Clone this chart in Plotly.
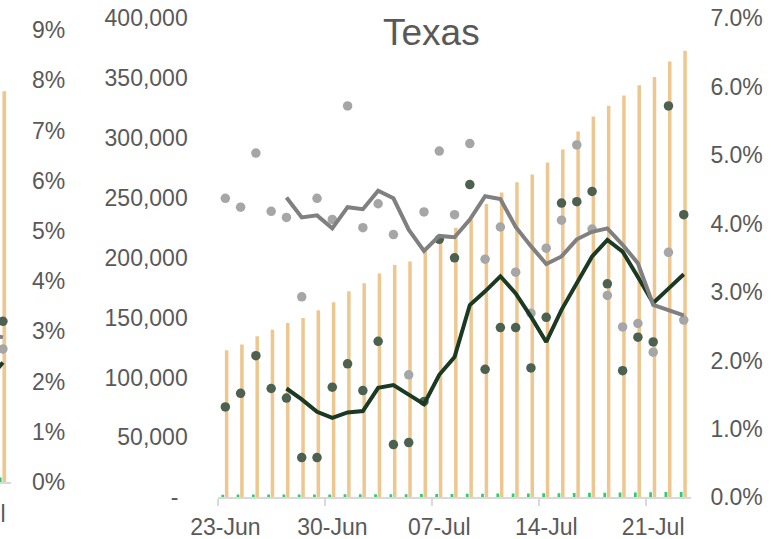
import plotly.graph_objects as go
import pandas as pd

W, H = 771, 539
TXT = "#595959"
AXIS = "#D9D9D9"
DAY_MS = 86400000

# ---- Texas data ----
dates = pd.date_range("2020-06-23", "2020-07-23", freq="D")

cases = [122700, 127700, 134400, 140000, 145500, 149700, 156100, 162800, 172000, 178700,
         186800, 194000, 197000, 207500, 215500, 225000, 232000, 245000, 254500, 263000,
         269500, 279500, 290500, 305500, 318000, 327000, 335500, 344000, 351000, 364000,
         373000]

deaths = [2220, 2249, 2296, 2325, 2366, 2373, 2381, 2424, 2481, 2525,
          2575, 2608, 2637, 2655, 2715, 2813, 2918, 3013, 3112, 3192,
          3235, 3322, 3432, 3561, 3735, 3865, 3958, 4021, 4151, 4348,
          4521]

# daily rates (%), right axis
green_daily = [1.32, 1.52, 2.07, 1.59, 1.45, 0.58, 0.58, 1.61, 1.95, 1.56,
               2.28, 0.77, 0.80, 1.40, 3.77, 3.50, 4.57, 1.87, 2.48, 2.48,
               1.89, 2.63, 4.30, 4.32, 4.47, 3.12, 1.85, 2.34, 2.27, 5.72,
               4.13]
green_avg = [None, None, None, None,
             1.59, 1.43, 1.25, 1.16, 1.24, 1.26, 1.60, 1.64, 1.50, 1.36,
             1.79, 2.05, 2.81, 3.01, 3.23, 2.98, 2.64, 2.27, 2.74, 3.13,
             3.52, 3.76, 3.59, 3.22, 2.84, 3.05, 3.26]

grey_daily = [4.37, 4.24, 5.03, 4.18, 4.09, 2.93, 4.37, 4.06, 5.72, 3.94,
              4.29, 3.84, 1.79, 4.17, 5.06, 4.13, 5.17, 3.48, 3.95, 3.29,
              2.69, 3.64, 4.05, 5.15, 3.92, 2.95, 2.49, 2.54, 2.12, 3.58,
              2.59]
grey_avg = [None, None, None, None,
            4.38, 4.09, 4.12, 3.93, 4.24, 4.21, 4.48, 4.37, 3.91, 3.60,
            3.82, 3.80, 4.06, 4.40, 4.36, 3.95, 3.67, 3.41, 3.52, 3.77,
            3.88, 3.93, 3.69, 3.42, 2.81, 2.74, 2.66]

left_ticks = [0, 50000, 100000, 150000, 200000, 250000, 300000, 350000, 400000]
left_labels = ["-\u2009\u2009", "50,000", "100,000", "150,000", "200,000",
               "250,000", "300,000", "350,000", "400,000"]
x_ticks = ["2020-06-23", "2020-06-30", "2020-07-07", "2020-07-14", "2020-07-21"]
x_labels = ["23-Jun", "30-Jun", "07-Jul", "14-Jul", "21-Jul"]

# ---- neighbouring chart, only its right edge is visible ----
frag_dates = ["2020-07-22", "2020-07-23"]
frag_cases = [380000, 389000]
frag_deaths = [4400, 4600]
frag_green_daily = [2.6, 3.20]
frag_grey_daily = [2.9, 2.65]
frag_green_avg = [2.0, 2.38]
frag_grey_avg = [2.95, 2.88]
frag_ticks = [0, 1, 2, 3, 4, 5, 6, 7, 8, 9]
frag_labels = ["0%", "1%", "2%", "3%", "4%", "5%", "6%", "7%", "8%", "9%"]


def px_x(p):
    return p / W


def px_y(p):
    return (H - p) / H


fig = go.Figure()

# main chart
fig.add_trace(go.Bar(x=dates, y=deaths, marker_color="#2ECC71", marker_line_width=0,
                     width=0.18 * DAY_MS, offset=-0.26 * DAY_MS, xaxis="x", yaxis="y"))
fig.add_trace(go.Bar(x=dates, y=cases, marker_color="#EDC78F", marker_line_width=0,
                     width=0.23 * DAY_MS, offset=-0.03 * DAY_MS, xaxis="x", yaxis="y"))
fig.add_trace(go.Scatter(x=dates, y=grey_daily, mode="markers",
                         marker=dict(color="#A6A6A6", size=9.5), xaxis="x", yaxis="y2"))
fig.add_trace(go.Scatter(x=dates, y=green_daily, mode="markers",
                         marker=dict(color="#4D6151", size=9.5), xaxis="x", yaxis="y2"))
fig.add_trace(go.Scatter(x=dates, y=green_avg, mode="lines",
                         line=dict(color="#1B3A24", width=4), xaxis="x", yaxis="y2"))
fig.add_trace(go.Scatter(x=dates, y=grey_avg, mode="lines",
                         line=dict(color="#808080", width=4), xaxis="x", yaxis="y2"))

# fragment of the chart to the left
fig.add_trace(go.Bar(x=frag_dates, y=frag_deaths, marker_color="#2ECC71", marker_line_width=0,
                     width=0.18 * DAY_MS, offset=-0.26 * DAY_MS, xaxis="x2", yaxis="y3"))
fig.add_trace(go.Bar(x=frag_dates, y=frag_cases, marker_color="#EDC78F", marker_line_width=0,
                     width=0.23 * DAY_MS, offset=-0.03 * DAY_MS, xaxis="x2", yaxis="y3"))
fig.add_trace(go.Scatter(x=frag_dates, y=frag_grey_daily, mode="markers",
                         marker=dict(color="#A6A6A6", size=9.5), xaxis="x2", yaxis="y4"))
fig.add_trace(go.Scatter(x=frag_dates, y=frag_green_daily, mode="markers",
                         marker=dict(color="#4D6151", size=9.5), xaxis="x2", yaxis="y4"))
fig.add_trace(go.Scatter(x=frag_dates, y=frag_green_avg, mode="lines",
                         line=dict(color="#1B3A24", width=4), xaxis="x2", yaxis="y4"))
fig.add_trace(go.Scatter(x=frag_dates, y=frag_grey_avg, mode="lines",
                         line=dict(color="#808080", width=4), xaxis="x2", yaxis="y4"))

main_ydom = [px_y(497.3), px_y(18.3)]
frag_ydom = [px_y(482), px_y(30)]

fig.update_layout(
    width=W, height=H,
    margin=dict(l=0, r=0, t=0, b=0, autoexpand=False),
    paper_bgcolor="white", plot_bgcolor="white",
    showlegend=False, barmode="overlay", hovermode=False,
    font=dict(family="Liberation Sans, Arial, sans-serif", size=23, color=TXT),
    xaxis=dict(
        domain=[px_x(217.7), px_x(691.4)], anchor="y", type="date",
        range=["2020-06-22 12:00", "2020-07-23 12:00"],
        tickvals=x_ticks, ticktext=x_labels, ticks="",
        showline=True, linecolor=AXIS, linewidth=2,
        showgrid=False, zeroline=False, ticklabelstandoff=8, automargin=False,
        minor=dict(ticks="outside", tick0="2020-06-22 12:00", dtick=7 * DAY_MS,
                   ticklen=7, tickcolor=AXIS, tickwidth=1.5, showgrid=False),
    ),
    yaxis=dict(
        domain=main_ydom, anchor="x", range=[0, 400000],
        tickvals=left_ticks, ticktext=left_labels, ticks="",
        showgrid=False, zeroline=False, ticklabelstandoff=29, automargin=False,
    ),
    yaxis2=dict(
        overlaying="y", side="right", anchor="x", range=[0, 7], dtick=1,
        tickformat=".1f", ticksuffix="%", ticks="",
        showgrid=False, zeroline=False, ticklabelstandoff=18, automargin=False,
    ),
    xaxis2=dict(
        domain=[0, px_x(11)], anchor="y3", type="date",
        range=["2020-07-22 19:41", "2020-07-23 12:00"],
        showticklabels=False, ticks="",
        showline=True, linecolor=AXIS, linewidth=2,
        showgrid=False, zeroline=False, automargin=False,
    ),
    yaxis3=dict(domain=frag_ydom, anchor="x2", range=[0, 450000], visible=False,
                automargin=False),
    yaxis4=dict(
        overlaying="y3", side="right", anchor="x2", range=[0, 9],
        tickvals=frag_ticks, ticktext=frag_labels, ticks="",
        showgrid=False, zeroline=False, ticklabelstandoff=20, automargin=False,
    ),
    annotations=[
        dict(text="Texas", x=px_x(431), y=px_y(33), xref="paper", yref="paper",
             xanchor="center", yanchor="middle", showarrow=False,
             font=dict(size=37, color=TXT)),
        dict(text="21-Jul", x=px_x(8), y=px_y(514), xref="paper", yref="paper",
             xanchor="right", yanchor="middle", showarrow=False,
             font=dict(size=23, color=TXT)),
    ],
)

# the page's default body margin would push the 771x539 figure 8px right and down
fig.write_html("out.html", config={"displayModeBar": False},
               post_script="document.body.style.margin = '0px';")
